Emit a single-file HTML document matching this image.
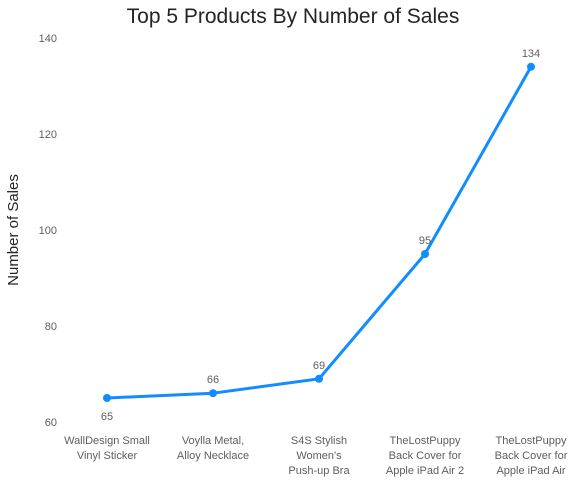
<!DOCTYPE html>
<html><head><meta charset="utf-8"><style>
body{margin:0;background:#fff;width:581px;height:483px;overflow:hidden}
svg{font-family:"Liberation Sans",sans-serif}
</style></head><body>
<svg id="chart" width="581" height="483">
<text x="293" y="23" text-anchor="middle" font-size="21" fill="#252423">Top 5 Products By Number of Sales</text>
<text transform="translate(18,230) rotate(-90)" text-anchor="middle" font-size="15" fill="#252423">Number of Sales</text>
<g id="yticks"></g><g id="xticks"></g><g id="series"></g>
</svg>
<script>
const categories=[["WallDesign Small","Vinyl Sticker"],["Voylla Metal,","Alloy Necklace"],["S4S Stylish","Women's","Push-up Bra"],["TheLostPuppy","Back Cover for","Apple iPad Air 2"],["TheLostPuppy","Back Cover for","Apple iPad Air"]];
const sales=[65,66,69,95,134];
const yTicks=[60,80,100,120,140];
const NS="http://www.w3.org/2000/svg";
const yMin=60,yMax=140,yTop=38,yBot=422;
function y(v){return yBot-(v-yMin)/(yMax-yMin)*(yBot-yTop);}
function x(i){return 107+i*106;}
function mk(t,a,p){const e=document.createElementNS(NS,t);for(const k in a)e.setAttribute(k,a[k]);p.appendChild(e);return e;}
const yt=document.getElementById('yticks');
yTicks.forEach(v=>{const t=mk('text',{x:57,y:y(v)+4,'text-anchor':'end','font-size':11,fill:'#605E5C'},yt);t.textContent=v;

});
const xt=document.getElementById('xticks');
categories.forEach((c,i)=>{const t=mk('text',{'text-anchor':'middle','font-size':11,fill:'#605E5C'},xt);


c.forEach((l,j)=>{const s=mk('tspan',{x:x(i),y:444+j*15},t);s.textContent=l;});});
const g=document.getElementById('series');
const line=mk('polyline',{points:sales.map((v,i)=>x(i)+','+y(v)).join(' '),fill:'none',stroke:'#118DFF','stroke-width':3,'stroke-linejoin':'round'},g);


sales.forEach((v,i)=>{const c=mk('circle',{cx:x(i),cy:y(v),r:4,fill:'#118DFF'},g);


const below=i===0;
const t=mk('text',{x:x(i),y:below?y(v)+22:y(v)-10,'text-anchor':'middle','font-size':11,fill:'#605E5C'},g);t.textContent=v;

});
</script>
</body></html>
